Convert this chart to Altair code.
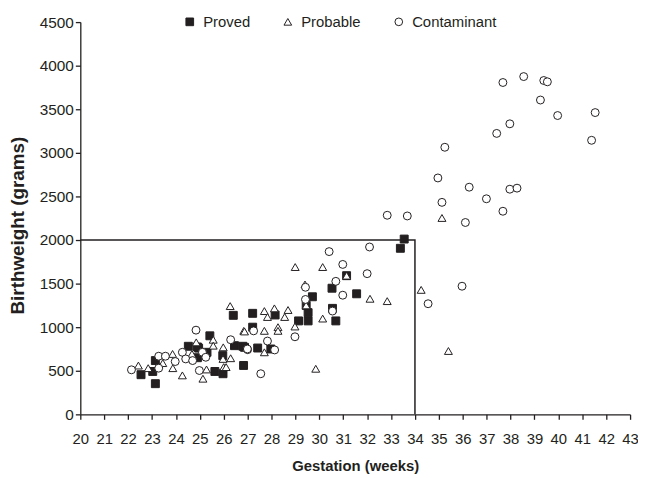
import altair as alt
import pandas as pd

# Proved (filled squares)
proved_x = [33.55, 33.39, 31.14, 30.53, 29.71, 31.56, 29.45, 30.55, 29.53, 29.53, 29.13, 30.69,
            27.21, 28.15, 27.21, 26.80, 27.42, 27.97, 26.83, 26.40, 25.42, 24.52, 24.90, 25.30,
            26.45, 26.87, 25.96, 25.97, 25.63, 23.14, 23.03, 22.54, 23.14, 24.95, 25.20, 24.90]
proved_y = [2011, 1905, 1591, 1447, 1349, 1383, 1250, 1216, 1167, 1072, 1072, 1072,
            1159, 1140, 1000, 781, 761, 750, 561, 1136, 901, 781, 773, 712,
            788, 769, 674, 466, 492, 617, 492, 455, 352, 760, 700, 650]

# Probable (open triangles)
probable_x = [35.13, 34.26, 32.84, 35.40, 28.99, 30.14, 31.14, 32.12, 29.45, 30.14, 28.98, 27.70,
              28.12, 28.69, 27.83, 28.55, 26.84, 27.70, 28.27, 28.27, 27.70, 29.85, 26.27, 26.87,
              25.56, 24.85, 25.56, 25.98, 26.29, 25.97, 26.00, 26.10, 25.13, 25.28, 24.27, 23.86,
              24.67, 22.43, 22.84, 23.45, 23.87, 29.40]
probable_y = [2253, 1428, 1299, 727, 1690, 1690, 1591, 1326, 1250, 1099, 1008, 1185,
              1216, 1197, 1117, 1117, 958, 958, 1000, 958, 712, 523, 1242, 951,
              856, 826, 788, 769, 644, 636, 542, 542, 409, 515, 447, 693,
              693, 560, 530, 588, 530, 1490]

# Contaminant (open circles)
contam_x = [37.68, 38.55, 39.39, 39.54, 39.25, 39.97, 41.54, 41.39, 37.97, 37.42, 35.25, 34.96,
            36.27, 37.97, 38.27, 36.99, 35.13, 37.68, 32.84, 33.68, 36.11, 34.55, 35.97, 30.41,
            32.10, 30.98, 32.00, 30.69, 29.42, 30.98, 29.42, 30.55, 28.98, 27.25, 27.83, 27.00,
            28.13, 27.55, 24.84, 25.11, 25.25, 26.29, 26.99, 24.98, 22.14, 23.28, 23.28, 23.56,
            23.97, 24.27, 24.41, 24.70]
contam_y = [3807, 3875, 3830, 3815, 3606, 3428, 3462, 3144, 3333, 3223, 3064, 2712,
            2606, 2583, 2595, 2473, 2432, 2330, 2284, 2276, 2201, 1269, 1470, 1867,
            1920, 1720, 1614, 1526, 1458, 1367, 1318, 1185, 890, 958, 841, 742,
            739, 466, 966, 712, 655, 856, 750, 503, 511, 530, 667, 667,
            606, 712, 636, 617]

series = ["Proved", "Probable", "Contaminant"]

ref_x = [20, 34, 34]
ref_y = [2000, 2000, 0]

x_ticks = list(range(20, 44))
y_ticks = list(range(0, 4501, 500))

rows = []
for name, xs, ys in [("Proved", proved_x, proved_y), ("Probable", probable_x, probable_y),
                     ("Contaminant", contam_x, contam_y)]:
    for a, b in zip(xs, ys):
        rows.append({"gest": a, "bw": b, "series": name})
df = pd.DataFrame(rows)
ref = pd.DataFrame({"gest": ref_x, "bw": ref_y, "idx": range(len(ref_x))})

INK = "#231f20"
FONT = "Liberation Sans"

xs = alt.X("gest:Q", scale=alt.Scale(domain=[20, 43], nice=False, zero=False),
           axis=alt.Axis(values=x_ticks, title="Gestation (weeks)", tickSize=5,
                         labelPadding=12, titlePadding=13, labelFlush=False))
ys = alt.Y("bw:Q", scale=alt.Scale(domain=[0, 4500], nice=False),
           axis=alt.Axis(values=y_ticks, format="d", title="Birthweight (grams)", tickSize=5,
                         labelPadding=2, titlePadding=12, labelFlush=False,
                         labelFontSize=15.5, titleFontSize=19, titleY=205))


def leg():
    return alt.Legend(title=None, orient="none", direction="horizontal",
                      legendX=103, legendY=-8, columnPadding=30,
                      labelFontSize=15, labelFont=FONT, labelColor=INK,
                      symbolSize=60, symbolStrokeWidth=1, labelOffset=6)


line = alt.Chart(ref).mark_line(color=INK, strokeWidth=1.5).encode(
    x=xs, y=ys, order="idx:Q")

points = alt.Chart(df).mark_point(filled=False, strokeWidth=1, opacity=1).encode(
    x=xs, y=ys,
    shape=alt.Shape("series:N", scale=alt.Scale(domain=series,
                                                range=["square", "triangle-up", "circle"]),
                    legend=leg()),
    fill=alt.Fill("series:N", scale=alt.Scale(domain=series, range=[INK, "white", "white"]),
                  legend=leg()),
    stroke=alt.Stroke("series:N", scale=alt.Scale(domain=series, range=[INK, INK, INK]),
                      legend=leg()),
    size=alt.value(64),
    order=alt.Order("ord:Q"),
).transform_calculate(
    ord="datum.series == 'Proved' ? 0 : (datum.series == 'Probable' ? 1 : 2)"
)

chart = alt.layer(line, points).properties(
    width=555, height=396,
    autosize=alt.AutoSizeParams(type="none"),
    padding={"left": 73, "top": 12, "right": 8, "bottom": 60},
).configure_view(stroke=None).configure_axis(
    domainColor=INK, tickColor=INK, labelColor=INK, titleColor=INK,
    labelFont=FONT, titleFont=FONT, labelFontSize=15, titleFontSize=15,
    titleFontWeight="bold", grid=False, domainWidth=1.3, tickWidth=1.3,
)

chart.save("out.html", embed_options={"renderer": "svg", "actions": False})
